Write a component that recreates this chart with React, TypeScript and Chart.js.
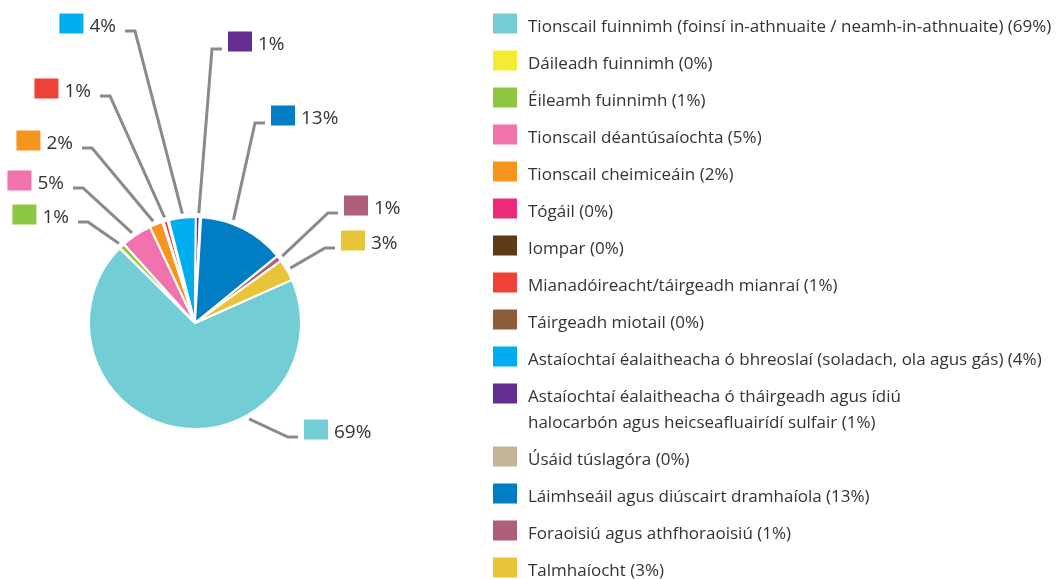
import React, { useEffect, useRef } from "react";
import { Chart, registerables } from "chart.js";

Chart.register(...registerables);

// ---- data ----
const categories: string[] = [
  "Tionscail fuinnimh (foinsí in-athnuaite / neamh-in-athnuaite)",
  "Dáileadh fuinnimh",
  "Éileamh fuinnimh",
  "Tionscail déantúsaíochta",
  "Tionscail cheimiceáin",
  "Tógáil",
  "Iompar",
  "Mianadóireacht/táirgeadh mianraí",
  "Táirgeadh miotail",
  "Astaíochtaí éalaitheacha ó bhreoslaí (soladach, ola agus gás)",
  "Astaíochtaí éalaitheacha ó tháirgeadh agus ídiú\nhalocarbón agus heicseafluairídí sulfair",
  "Úsáid túslagóra",
  "Láimhseáil agus diúscairt dramhaíola",
  "Foraoisiú agus athfhoraoisiú",
  "Talmhaíocht",
];

// estimated shares (%)
const values: number[] = [69.1, 0.1, 0.8, 4.7, 2.0, 0.1, 0.1, 0.6, 0.2, 4.1, 0.6, 0.2, 13.2, 0.9, 3.3];

// percentages as printed in the chart
const printedPct: number[] = [69, 0, 1, 5, 2, 0, 0, 1, 0, 4, 1, 0, 13, 1, 3];

const colors: string[] = [
  "#73cdd4",
  "#f6eb33",
  "#8dc63f",
  "#f172ac",
  "#f7941e",
  "#ec297b",
  "#603a17",
  "#ef4136",
  "#8b5d3b",
  "#00aeef",
  "#662d91",
  "#c4b59a",
  "#007dc3",
  "#ad5e78",
  "#e8c43b",
];

// ---- label placement (annotation layout, offsets from pie centre) ----
type Lay = { dx: number; dy: number; side: "left" | "right"; at: number };
const labelLayout: Record<number, Lay> = {
  0: { dx: 93, dy: 114, side: "right", at: 0.34 },
  2: { dx: -107, dy: -101, side: "left", at: 0.4 },
  3: { dx: -112, dy: -135, side: "left", at: 0.42 },
  4: { dx: -103, dy: -175, side: "left", at: 0.38 },
  7: { dx: -85, dy: -227, side: "left", at: 0.5 },
  9: { dx: -60, dy: -292, side: "left", at: 0.52 },
  10: { dx: 17, dy: -274, side: "right", at: 0.7 },
  12: { dx: 60, dy: -200, side: "right", at: 0.36 },
  13: { dx: 133, dy: -110, side: "right", at: 0.5 },
  14: { dx: 130, dy: -75, side: "right", at: 0.5 },
};

const FONT = '"Open Sans", "Noto Sans", sans-serif';
const TEXT_COLOR = "#333333";
const LINE_COLOR = "#8a8a8a";

const annotationsPlugin = {
  id: "pieAnnotations",
  afterDraw(chart: any) {
    const ctx: CanvasRenderingContext2D = chart.ctx;
    const meta = chart.getDatasetMeta(0);
    ctx.save();
    // slice labels with leader lines
    meta.data.forEach((arc: any, i: number) => {
      const lay = labelLayout[i];
      if (!lay) return;
      const { x, y, startAngle, endAngle, outerRadius } = arc.getProps(
        ["x", "y", "startAngle", "endAngle", "outerRadius"],
        true
      );
      const a = startAngle + (endAngle - startAngle) * lay.at;
      const ax = x + Math.cos(a) * (outerRadius + 4);
      const ay = y + Math.sin(a) * (outerRadius + 4);
      const ex = x + lay.dx;
      const ey = y + lay.dy;
      const hx = ex + (lay.side === "right" ? 10 : -10);
      ctx.strokeStyle = LINE_COLOR;
      ctx.lineWidth = 3;
      ctx.lineJoin = "miter";
      ctx.lineCap = "butt";
      ctx.beginPath();
      ctx.moveTo(ax, ay);
      ctx.lineTo(ex, ey);
      ctx.lineTo(hx, ey);
      ctx.stroke();

      const text = `${printedPct[i]}%`;
      ctx.font = `19px ${FONT}`;
      const tw = ctx.measureText(text).width;
      const sqW = 24;
      const sqH = 20;
      const sqBottom = ey + 2.5;
      const sqX = lay.side === "right" ? hx + 6 : hx - 9 - tw - 6 - sqW;
      ctx.fillStyle = colors[i];
      ctx.fillRect(sqX, sqBottom - sqH, sqW, sqH);
      ctx.fillStyle = TEXT_COLOR;
      ctx.textAlign = "left";
      ctx.textBaseline = "alphabetic";
      ctx.fillText(text, sqX + sqW + 6, sqBottom - 2);
    });

    // legend
    let top = 13.5;
    ctx.font = `17px ${FONT}`;
    categories.forEach((name, i) => {
      const lines = `${name} (${printedPct[i]}%)`.split("\n");
      ctx.fillStyle = colors[i];
      ctx.fillRect(493, top, 24, 20);
      ctx.fillStyle = TEXT_COLOR;
      lines.forEach((ln, k) => ctx.fillText(ln, 528, top + 18.5 + k * 26));
      top += 37 + (lines.length - 1) * 26;
    });
    ctx.restore();
  },
};

export default function App() {
  const ref = useRef<HTMLCanvasElement | null>(null);
  useEffect(() => {
    document.body.style.margin = "0";
    const canvas = ref.current;
    if (!canvas) return;
    const chart = new Chart(canvas, {
      type: "pie",
      data: {
        labels: categories,
        datasets: [
          {
            data: values,
            backgroundColor: colors,
            borderColor: "#ffffff",
            borderWidth: 2,
            hoverOffset: 0,
          },
        ],
      },
      options: {
        animation: false,
        responsive: false,
        rotation: 66,
        radius: 106,
        layout: { padding: { left: 0, right: 672, top: 100, bottom: 33 } },
        plugins: {
          legend: { display: false },
          tooltip: { enabled: false },
        },
      } as any,
      plugins: [annotationsPlugin],
    });
    return () => chart.destroy();
  }, []);
  return (
    <div style={{ position: "fixed", left: 0, top: 0, width: 1062, height: 579, background: "#fff" }}>
      <canvas ref={ref} width={1062} height={579} />
    </div>
  );
}
